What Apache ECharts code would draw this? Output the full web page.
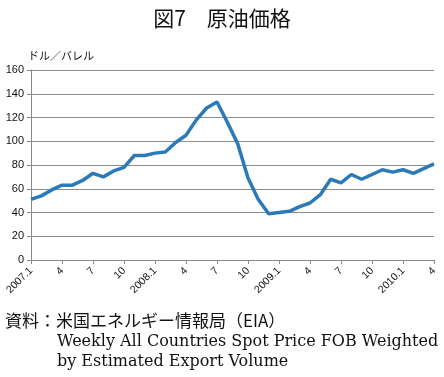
<!DOCTYPE html>
<html><head><meta charset="utf-8">
<script src="https://cdn.jsdelivr.net/npm/echarts@6/dist/echarts.min.js"></script>
<style>html,body{margin:0;padding:0;background:#fff}#c{width:444px;height:377px}</style>
</head><body><div id="c"></div>
<script>
var months = [];
var years = [2007, 2008, 2009, 2010];
for (var y = 0; y < years.length; y++) {
  for (var m = 1; m <= 12; m++) {
    if (years[y] === 2010 && m > 4) break;
    months.push(m === 1 ? years[y] + '.1' : String(m));
  }
}
var prices = [51, 54, 59, 63, 63, 67, 73, 70, 75, 78, 88, 88,
              90, 91, 99, 105, 118, 128, 133, 116, 98, 69, 51, 39,
              40, 41, 45, 48, 55, 68, 65, 72, 68, 72, 76, 74,
              76, 73, 77, 81];
var yTicks = [0, 20, 40, 60, 80, 100, 120, 140, 160];
var titleText = '図7　原油価格';
var unitText = 'ドル／バレル';
var sourceLines = ['資料：米国エネルギー情報局（EIA）', 'Weekly All Countries Spot Price FOB Weighted', 'by Estimated Export Volume'];

var chart = echarts.init(document.getElementById('c'));
chart.setOption({
  animation: false,
  title: {text: titleText, left: 'center', top: 3,
    textStyle: {fontFamily: 'Noto Sans CJK JP', fontSize: 21, fontWeight: 'normal', color: '#111'}},
  grid: {left: 31, right: 10, top: 70, bottom: 117},
  xAxis: {type: 'category', data: months, boundaryGap: false,
    axisLine: {lineStyle: {color: '#888', width: 1}},
    axisTick: {show: true, interval: 2, length: 4, lineStyle: {color: '#888'}},
    axisLabel: {interval: 2, rotate: 45, fontSize: 10.5, color: '#111', fontFamily: 'Liberation Sans', margin: 9}},
  yAxis: {type: 'value', min: 0, max: 160, interval: 20,
    axisLine: {show: true, lineStyle: {color: '#888'}},
    axisTick: {show: true, length: 4, lineStyle: {color: '#888'}},
    axisLabel: {fontSize: 11, color: '#111', fontFamily: 'Liberation Sans', margin: 7},
    splitLine: {lineStyle: {color: '#8c8c8c', width: 1}}},
  series: [{type: 'line', data: prices, showSymbol: false, symbol: 'none',
    lineStyle: {color: '#2a7ab9', width: 3.5}}],
  graphic: [
    {type: 'text', left: 28, top: 50, style: {text: unitText, fontSize: 11, fill: '#111', fontFamily: 'Noto Sans CJK JP'}},
    {type: 'text', left: 5, top: 312, style: {text: sourceLines[0], fontSize: 17, fill: '#111', fontFamily: 'Noto Sans CJK JP'}},
    {type: 'text', left: 57, top: 334, style: {text: sourceLines[1], fontSize: 16, fill: '#111', fontFamily: 'DejaVu Serif'}},
    {type: 'text', left: 57, top: 354, style: {text: sourceLines[2], fontSize: 16, fill: '#111', fontFamily: 'DejaVu Serif'}}
  ]
});
</script></body></html>
